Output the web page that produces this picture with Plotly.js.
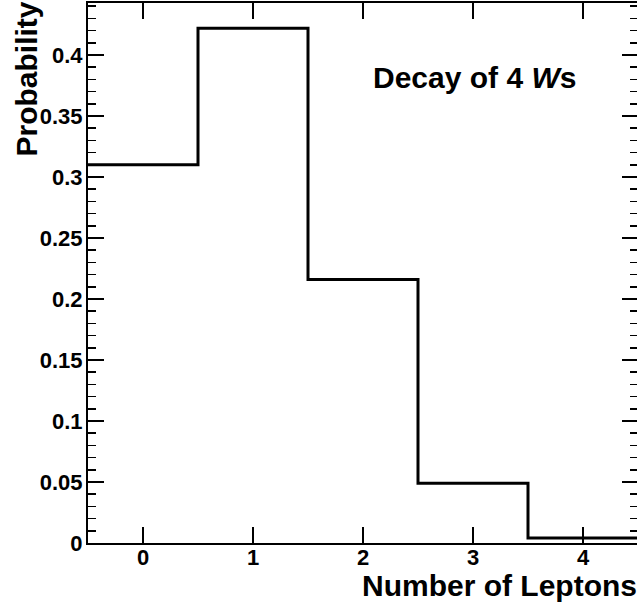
<!DOCTYPE html>
<html>
<head>
<meta charset="utf-8">
<script src="https://cdn.plot.ly/plotly-3.0.1.min.js"></script>
<style>
html,body{margin:0;padding:0;overflow:hidden;background:#fff;}
#chart{width:640px;height:605px;}
</style>
</head>
<body>
<div id="chart"></div>
<script>
// Data
const binCenters = [0, 1, 2, 3, 4];
const probabilities = [0.310, 0.422, 0.216, 0.049, 0.004];
const xTickVals = [0, 1, 2, 3, 4];
const xTickText = ['0', '1', '2', '3', '4'];
const yTickVals = [0, 0.05, 0.1, 0.15, 0.2, 0.25, 0.3, 0.35, 0.4];
const yTickText = ['0', '0.05', '0.1', '0.15', '0.2', '0.25', '0.3', '0.35', '0.4'];

// Build step outline from bin edges
const binWidth = 1;
const xs = binCenters.map(c => c - binWidth / 2);
xs.push(binCenters[binCenters.length - 1] + binWidth / 2);
const ys = probabilities.slice();
ys.push(probabilities[probabilities.length - 1]);

const FONT = 'Liberation Sans, Arial, Helvetica, sans-serif';
const bold = s => '<b>' + s + '</b>';

const trace = {
  x: xs, y: ys, type: 'scatter', mode: 'lines',
  line: {shape: 'hv', color: '#000', width: 3},
  hoverinfo: 'skip', showlegend: false
};

const layout = {
  width: 640, height: 605,
  margin: {l: 88, r: 2, t: 3, b: 62},
  paper_bgcolor: '#fff', plot_bgcolor: '#fff',
  font: {family: FONT, color: '#000'},
  xaxis: {
    range: [-0.5, 4.5], showgrid: false, zeroline: false,
    showline: true, linecolor: '#000', linewidth: 2, mirror: 'ticks',
    ticks: 'inside', ticklen: 16, tickwidth: 1.5, tickcolor: '#000',
    tickvals: xTickVals, ticktext: xTickText.map(bold),
    tickfont: {family: FONT, size: 22, color: '#000'},
    ticklabelstandoff: -6
  },
  yaxis: {
    range: [0, 0.4426], showgrid: false, zeroline: false,
    showline: true, linecolor: '#000', linewidth: 2, mirror: 'ticks',
    ticks: 'inside', ticklen: 16, tickwidth: 1.5, tickcolor: '#000',
    tickvals: yTickVals, ticktext: yTickText.map(bold),
    tickfont: {family: FONT, size: 22, color: '#000'},
    minor: {dtick: 0.01, ticks: 'inside', ticklen: 8, tickwidth: 1.5, tickcolor: '#000'},
    ticklabelstandoff: -1
  },
  annotations: [
    {
      text: bold('Probability'), textangle: -90, showarrow: false,
      xref: 'paper', yref: 'paper', x: (26 - 88) / 550, y: 1.0056,
      xanchor: 'center', yanchor: 'top',
      font: {family: FONT, size: 30, color: '#000'}
    },
    {
      text: bold('Number of Leptons'), showarrow: false,
      xref: 'paper', yref: 'paper', x: (639 - 88) / 550, y: (543 - 585) / 540,
      xanchor: 'right', yanchor: 'middle',
      font: {family: FONT, size: 30, color: '#000'}
    },
    {
      text: bold('Decay of 4 <i>W</i>s'), showarrow: false,
      xref: 'paper', yref: 'paper', x: (371 - 88) / 550, y: (543 - 77) / 540,
      xanchor: 'left', yanchor: 'middle',
      font: {family: FONT, size: 30, color: '#000'}
    }
  ]
};

Plotly.newPlot('chart', [trace], layout, {displayModeBar: false, staticPlot: true});
</script>
</body>
</html>
